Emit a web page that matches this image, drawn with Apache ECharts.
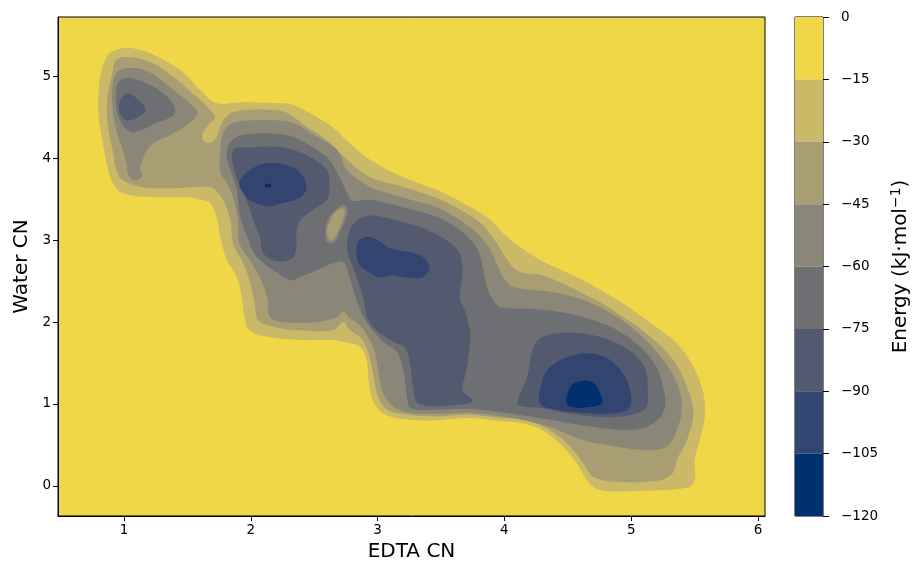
<!DOCTYPE html>
<html><head><meta charset="utf-8">
<script src="https://cdn.jsdelivr.net/npm/echarts@6/dist/echarts.min.js"></script>
<style>html,body{margin:0;padding:0;background:#fff}#c{width:912px;height:566px}</style>
</head><body><div id="c"></div>
<script>
// ---- tick labels ----
const xTicks = [1, 2, 3, 4, 5, 6];
const yTicks = [0, 1, 2, 3, 4, 5];
const cbTicks = [0, -15, -30, -45, -60, -75, -90, -105, -120];
// ---- contour levels (kJ/mol) ----
const levels = [0, -15, -30, -45, -60, -75, -90, -105, -120];

// ---- iso-energy contour outlines, [EDTA CN, Water CN] ----
const contour15 = [[0.83,5.11],[0.89,5.28],[0.99,5.34],[1.13,5.32],[1.31,5.20],[1.47,5.04],[1.60,4.83],[1.73,4.67],[1.92,4.68],[2.18,4.67],[2.33,4.65],[2.52,4.50],[2.65,4.37],[2.78,4.18],[2.94,3.98],[3.20,3.77],[3.47,3.61],[3.67,3.45],[3.86,3.28],[4.02,3.04],[4.12,2.92],[4.28,2.76],[4.62,2.51],[4.89,2.27],[5.15,1.99],[5.36,1.74],[5.49,1.45],[5.57,1.13],[5.58,0.84],[5.54,0.56],[5.50,0.32],[5.50,0.07],[5.44,-0.02],[5.01,-0.06],[4.75,-0.05],[4.65,0.07],[4.57,0.28],[4.46,0.48],[4.30,0.68],[4.12,0.77],[3.97,0.79],[3.73,0.83],[3.44,0.80],[3.18,0.82],[3.04,0.89],[2.96,1.05],[2.93,1.29],[2.91,1.56],[2.86,1.70],[2.78,1.74],[2.65,1.78],[2.39,1.78],[2.13,1.82],[1.99,1.90],[1.95,2.06],[1.93,2.30],[1.89,2.55],[1.81,2.76],[1.76,3.04],[1.73,3.28],[1.68,3.45],[1.60,3.49],[1.52,3.52],[1.26,3.52],[0.99,3.57],[0.91,3.70],[0.87,3.89],[0.83,4.22],[0.80,4.50],[0.80,4.83]];
const contour30 = [[0.91,5.04],[0.94,5.20],[1.05,5.23],[1.21,5.17],[1.39,4.99],[1.54,4.79],[1.68,4.59],[1.72,4.49],[1.68,4.43],[1.62,4.30],[1.62,4.22],[1.68,4.18],[1.73,4.26],[1.76,4.38],[1.80,4.49],[1.86,4.56],[2.13,4.59],[2.29,4.55],[2.44,4.38],[2.60,4.22],[2.76,3.98],[2.94,3.77],[3.20,3.65],[3.47,3.51],[3.65,3.37],[3.81,3.21],[3.94,2.96],[4.04,2.72],[4.12,2.61],[4.30,2.57],[4.62,2.35],[4.89,2.11],[5.15,1.82],[5.33,1.54],[5.44,1.21],[5.49,0.89],[5.44,0.56],[5.36,0.32],[5.33,0.16],[5.23,0.07],[4.89,0.05],[4.70,0.11],[4.62,0.28],[4.52,0.48],[4.36,0.68],[4.18,0.80],[3.97,0.83],[3.73,0.87],[3.44,0.85],[3.18,0.88],[3.06,0.95],[3.00,1.11],[2.96,1.41],[2.92,1.66],[2.86,1.82],[2.78,1.90],[2.73,2.00],[2.65,1.90],[2.39,1.90],[2.18,1.94],[2.06,2.02],[2.03,2.23],[1.99,2.51],[1.94,2.72],[1.86,2.96],[1.84,3.24],[1.78,3.49],[1.70,3.63],[1.60,3.65],[1.39,3.63],[1.13,3.65],[0.99,3.73],[0.94,3.85],[0.91,4.10],[0.87,4.43],[0.87,4.74]];
const contour45Left = [[0.94,5.04],[1.05,5.10],[1.21,5.04],[1.39,4.83],[1.52,4.67],[1.58,4.55],[1.52,4.43],[1.39,4.30],[1.23,4.18],[1.17,4.06],[1.13,3.89],[1.14,3.77],[1.07,3.73],[1.03,3.82],[1.02,3.94],[0.99,4.10],[0.94,4.34],[0.91,4.62],[0.91,4.87]];
const contour45 = [[1.76,4.10],[1.78,4.30],[1.86,4.43],[2.13,4.46],[2.33,4.43],[2.52,4.26],[2.68,4.10],[2.76,3.85],[2.94,3.65],[3.20,3.52],[3.47,3.40],[3.65,3.24],[3.78,3.09],[3.89,2.88],[3.97,2.60],[4.04,2.45],[4.12,2.41],[4.36,2.37],[4.62,2.27],[4.89,2.06],[5.09,1.82],[5.25,1.54],[5.36,1.26],[5.40,0.96],[5.36,0.68],[5.28,0.48],[5.12,0.44],[4.89,0.48],[4.62,0.56],[4.36,0.72],[4.10,0.82],[3.97,0.85],[3.73,0.89],[3.44,0.88],[3.22,0.90],[3.12,0.98],[3.05,1.11],[3.01,1.35],[2.98,1.63],[2.92,1.83],[2.86,1.96],[2.77,2.06],[2.73,2.13],[2.68,2.06],[2.52,2.00],[2.25,2.00],[2.15,2.06],[2.13,2.30],[2.07,2.55],[1.99,2.76],[1.91,2.96],[1.90,3.24],[1.86,3.52],[1.81,3.70],[1.76,3.83]];
const contour60Left = [[0.95,4.91],[1.02,4.98],[1.15,4.93],[1.31,4.79],[1.40,4.62],[1.39,4.52],[1.26,4.43],[1.13,4.34],[1.05,4.32],[0.98,4.43],[0.94,4.62],[0.94,4.79]];
const contour60 = [[1.81,4.10],[1.89,4.26],[2.13,4.30],[2.33,4.26],[2.52,4.10],[2.62,3.98],[2.70,3.77],[2.76,3.57],[2.80,3.48],[2.94,3.49],[3.20,3.40],[3.47,3.28],[3.65,3.12],[3.78,2.91],[3.83,2.67],[3.86,2.43],[3.91,2.27],[3.97,2.18],[4.23,2.16],[4.49,2.11],[4.70,2.02],[4.89,1.90],[5.07,1.70],[5.20,1.45],[5.25,1.21],[5.27,1.01],[5.23,0.84],[5.12,0.72],[4.97,0.68],[4.75,0.71],[4.49,0.77],[4.23,0.84],[3.97,0.90],[3.73,0.94],[3.44,0.93],[3.26,0.95],[3.23,1.11],[3.21,1.35],[3.16,1.62],[3.06,1.74],[2.96,1.90],[2.88,2.09],[2.83,2.29],[2.78,2.54],[2.73,2.73],[2.65,2.72],[2.52,2.63],[2.39,2.55],[2.31,2.51],[2.21,2.60],[2.05,2.79],[1.97,3.04],[1.91,3.33],[1.89,3.61],[1.84,3.85]];
const saddleRing = [[2.73,3.43],[2.76,3.37],[2.74,3.22],[2.70,3.09],[2.66,2.98],[2.60,2.98],[2.59,3.09],[2.60,3.22],[2.66,3.35]];
const saddleCore = [[2.73,3.39],[2.74,3.34],[2.72,3.22],[2.69,3.11],[2.65,3.01],[2.62,3.01],[2.60,3.10],[2.62,3.21],[2.66,3.33]];
const contour75Left = [[0.98,4.73],[1.03,4.79],[1.10,4.73],[1.17,4.59],[1.10,4.49],[1.02,4.46],[0.97,4.55],[0.96,4.65]];
const contour75Upper = [[1.86,4.10],[1.99,4.13],[2.25,4.13],[2.47,4.01],[2.60,3.85],[2.62,3.65],[2.60,3.49],[2.49,3.37],[2.39,3.24],[2.36,3.10],[2.36,2.91],[2.33,2.78],[2.21,2.74],[2.10,2.84],[2.07,3.04],[2.02,3.24],[1.94,3.61],[1.88,3.79]];
const contour75Middle = [[2.78,3.12],[2.84,3.24],[2.94,3.30],[3.20,3.22],[3.44,3.09],[3.63,2.88],[3.67,2.63],[3.65,2.30],[3.70,2.09],[3.73,1.82],[3.70,1.41],[3.67,1.17],[3.75,1.05],[3.70,1.00],[3.33,1.00],[3.28,1.21],[3.26,1.45],[3.22,1.68],[3.10,1.78],[2.99,1.90],[2.92,2.05],[2.88,2.33],[2.81,2.66],[2.76,2.88]];
const contour75Right = [[4.11,0.99],[4.12,1.11],[4.18,1.33],[4.23,1.70],[4.30,1.82],[4.49,1.87],[4.70,1.84],[4.89,1.74],[5.05,1.57],[5.12,1.38],[5.13,1.13],[5.12,0.96],[5.01,0.87],[4.75,0.84],[4.49,0.89],[4.28,0.95]];
const contour90Upper = [[1.91,3.70],[1.99,3.85],[2.13,3.94],[2.29,3.91],[2.39,3.82],[2.44,3.65],[2.39,3.52],[2.25,3.45],[2.13,3.41],[1.99,3.49],[1.94,3.57]];
const contour90Middle = [[2.84,2.96],[2.92,3.04],[3.00,3.00],[3.10,2.90],[3.26,2.85],[3.36,2.79],[3.41,2.67],[3.36,2.55],[3.23,2.54],[3.12,2.57],[3.02,2.54],[2.94,2.60],[2.85,2.72]];
const contour90Right = [[4.28,1.01],[4.30,1.29],[4.36,1.45],[4.49,1.57],[4.65,1.62],[4.81,1.56],[4.93,1.38],[4.99,1.17],[4.99,0.96],[4.89,0.89],[4.62,0.89],[4.41,0.93]];
const contour105Upper = [[2.11,3.66],[2.12,3.68],[2.14,3.69],[2.16,3.68],[2.16,3.65],[2.14,3.64],[2.12,3.64]];
const contour105Right = [[4.49,1.01],[4.50,1.13],[4.53,1.23],[4.61,1.28],[4.70,1.26],[4.75,1.15],[4.77,1.01],[4.65,0.96],[4.54,0.96]];

// regions in drawing order: [level of the contour, outline]; the fill is the band just below that level
const regions = [
  [-15, contour15], [-30, contour30],
  [-45, contour45Left], [-45, contour45],
  [-60, contour60Left], [-60, contour60],
  [-45, saddleRing], [-30, saddleCore],
  [-75, contour75Left], [-75, contour75Upper], [-75, contour75Middle], [-75, contour75Right],
  [-90, contour90Upper], [-90, contour90Middle], [-90, contour90Right],
  [-105, contour105Upper], [-105, contour105Right]
];

// cividis-like band colours, index i = band between levels[i] and levels[i+1]
const bandColors = ['#efd748', '#cab966', '#a99e73', '#8a8778', '#6e6f73', '#53596f', '#314570', '#00306e'];
const FONT = 'DejaVu Sans';
const minus = v => String(v).replace('-', '\u2212');

const chart = echarts.init(document.getElementById('c'), null, {renderer: 'canvas'});
chart.setOption({
  animation: false,
  backgroundColor: '#ffffff',
  grid: [
    {left: 58, top: 17, width: 707, height: 499, show: true, backgroundColor: bandColors[0],
     borderColor: '#000', borderWidth: 1, outerBoundsMode: 'none', containLabel: false},
    {left: 795, top: 17, width: 28, height: 499, show: true, backgroundColor: 'transparent',
     borderColor: '#000', borderWidth: 1, outerBoundsMode: 'none', containLabel: false}
  ],
  xAxis: [
    {type: 'value', gridIndex: 0, min: 0.48, max: 6.055,
     name: 'EDTA CN', nameLocation: 'middle', nameGap: 25,
     nameTextStyle: {fontFamily: FONT, fontSize: 20, color: '#000'},
     axisLine: {show: true, onZero: false, lineStyle: {color: '#000', width: 1}},
     axisTick: {show: true, length: 5, customValues: xTicks, lineStyle: {color: '#000', width: 1}},
     axisLabel: {customValues: xTicks, color: '#000', fontFamily: FONT, fontSize: 13.5, margin: 7},
     splitLine: {show: false}},
    {type: 'value', gridIndex: 1, min: 0, max: 1, show: false}
  ],
  yAxis: [
    {type: 'value', gridIndex: 0, min: -0.366, max: 5.72,
     name: 'Water CN', nameLocation: 'middle', nameGap: 26, nameRotate: 90,
     nameTextStyle: {fontFamily: FONT, fontSize: 20, color: '#000'},
     axisLine: {show: true, onZero: false, lineStyle: {color: '#000', width: 1}},
     axisTick: {show: true, length: 5, customValues: yTicks, lineStyle: {color: '#000', width: 1}},
     axisLabel: {customValues: yTicks, color: '#000', fontFamily: FONT, fontSize: 13.5, margin: 7},
     splitLine: {show: false}},
    {type: 'value', gridIndex: 1, min: -120, max: 0, interval: 15, position: 'right',
     name: 'Energy (kJ\u00b7mol{sup|\u22121})', nameLocation: 'middle', nameGap: 66, nameRotate: 90,
     nameTextStyle: {fontFamily: FONT, fontSize: 20, color: '#000',
       rich: {sup: {fontFamily: FONT, fontSize: 14, color: '#000', verticalAlign: 'top', padding: [0, 0, 10, 0]}}},
     axisLine: {show: false, onZero: false},
     axisTick: {show: true, length: 6, customValues: cbTicks, lineStyle: {color: '#000', width: 1}},
     axisLabel: {customValues: cbTicks, color: '#000', fontFamily: FONT, fontSize: 13.5, margin: 18, formatter: minus},
     splitLine: {show: false}}
  ],
  series: [
    {
      type: 'custom', xAxisIndex: 0, yAxisIndex: 0, clip: true, silent: true,
      data: regions.map((r, i) => [r[1][0][0], r[1][0][1], i]),
      encode: {x: 0, y: 1},
      renderItem: function (params, api) {
        const r = regions[api.value(2)];
        const pts = r[1].map(p => api.coord(p));
        return {type: 'polygon', shape: {points: pts, smooth: 0.35},
                style: {fill: bandColors[levels.indexOf(r[0])], stroke: null}};
      }
    },
    {
      type: 'custom', xAxisIndex: 1, yAxisIndex: 1, silent: true,
      data: levels.slice(0, -1).map((hi, i) => [0, hi, levels[i + 1], i]),
      encode: {x: 0, y: 1},
      renderItem: function (params, api) {
        const hi = api.value(1), lo = api.value(2), i = api.value(3);
        const a = api.coord([0, hi]), b = api.coord([1, lo]);
        return {type: 'rect', shape: {x: a[0], y: a[1], width: b[0] - a[0], height: b[1] - a[1]},
                style: {fill: bandColors[i], stroke: null}};
      }
    }
  ]
});
</script></body></html>
